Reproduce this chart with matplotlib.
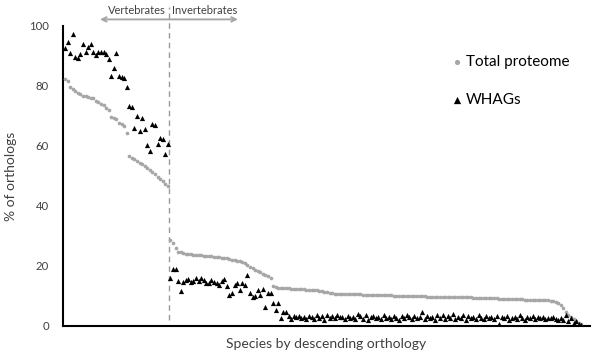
import matplotlib
matplotlib.use("Agg")
import matplotlib.pyplot as plt
import numpy as np

plt.rcParams['font.family'] = ['Lato', 'DejaVu Sans']

# ---- data ----
total_vertebrates = [82.2, 81.8, 79.6, 79.0, 78.2, 77.6, 77.2, 76.8, 76.5, 76.3,
                     76.1, 75.9, 74.9, 74.5, 74.0, 73.6, 72.8, 72.0, 69.8, 69.4,
                     68.9, 67.8, 67.3, 66.8, 64.2, 56.5, 56.0, 55.5, 55.0, 54.4,
                     53.9, 53.2, 52.6, 51.9, 51.2, 50.5, 49.8, 49.0, 48.3, 47.2,
                     46.5]
whags_vertebrates = [92.6, 94.6, 90.9, 97.3, 89.6, 89.2, 90.7, 94.1, 91.3, 93.0,
                     94.0, 91.3, 90.3, 91.4, 91.3, 91.2, 90.8, 88.9, 83.4, 85.9,
                     91.1, 83.4, 83.1, 82.5, 79.8, 73.3, 72.9, 66.1, 70.1, 65.0,
                     69.4, 65.6, 60.2, 58.4, 67.3, 67.1, 60.6, 62.8, 62.4, 57.3,
                     60.7]

total_invertebrates = [
    28.7, 27.6, 25.9, 24.8, 24.5, 24.3, 24.1, 24.0, 23.9, 23.8,
    23.7, 23.6, 23.5, 23.4, 23.4, 23.3, 23.2, 23.1, 23.0, 22.9,
    22.8, 22.6, 22.5, 22.3, 22.1, 22.0, 21.8, 21.5, 21.2, 20.9,
    20.3, 19.6, 19.2, 18.7, 18.4, 17.9, 17.4, 17.0, 16.6, 16.0,
    13.3, 13.0, 12.8, 12.6, 12.6, 12.5, 12.5, 12.4, 12.4, 12.3,
    12.3, 12.2, 12.2, 12.1, 12.1, 12.0, 12.0, 11.9, 11.8, 11.6,
    11.4, 11.2, 11.0, 10.9, 10.8, 10.7, 10.7, 10.7, 10.6, 10.6,
    10.6, 10.5, 10.5, 10.5, 10.5, 10.4, 10.4, 10.4, 10.4, 10.3,
    10.3, 10.3, 10.3, 10.2, 10.2, 10.2, 10.2, 10.1, 10.1, 10.1,
    10.1, 10.0, 10.0, 10.0, 10.0, 10.0, 9.9, 9.9, 9.9, 9.9,
    9.8, 9.8, 9.8, 9.8, 9.7, 9.7, 9.7, 9.7, 9.6, 9.6,
    9.6, 9.6, 9.6, 9.5, 9.5, 9.5, 9.5, 9.5, 9.4, 9.4,
    9.4, 9.4, 9.3, 9.3, 9.3, 9.2, 9.2, 9.2, 9.1, 9.1,
    9.1, 9.0, 9.0, 9.0, 8.9, 8.9, 8.9, 8.9, 8.8, 8.8,
    8.8, 8.8, 8.7, 8.7, 8.7, 8.6, 8.6, 8.5, 8.4, 8.2,
    8.0, 7.5, 7.0, 6.0, 4.8, 3.8, 2.9, 2.2, 1.5, 1.0, 0.5]
whags_invertebrates = [
    15.9, 18.9, 18.9, 15.1, 11.8, 14.8, 15.3, 15.6, 14.8, 15.1,
    15.9, 15.1, 15.9, 15.3, 14.2, 14.2, 15.3, 14.8, 14.2, 13.7,
    15.1, 15.6, 13.4, 10.3, 10.9, 13.7, 14.2, 12.0, 14.2, 13.7,
    17.0, 11.1, 9.8, 9.9, 12.0, 10.3, 12.2, 6.4, 11.1, 10.9,
    7.5, 5.3, 7.5, 2.6, 4.8, 4.8, 3.3, 2.2, 3.3, 2.9,
    3.3, 2.6, 3.1, 2.2, 3.3, 3.0, 2.4, 3.6, 2.7, 3.2,
    2.1, 3.5, 2.8, 3.3, 2.5, 3.8, 2.9, 3.1, 2.3, 3.4,
    2.6, 3.0, 2.2, 4.1, 3.2, 2.4, 3.5, 2.0, 2.9, 3.3,
    2.5, 3.0, 2.2, 3.6, 2.7, 3.1, 2.4, 3.4, 2.8, 2.1,
    3.2, 2.6, 3.7, 2.9, 2.3, 3.3, 2.5, 3.0, 4.6, 2.2,
    3.4, 2.7, 3.1, 2.0, 3.5, 2.6, 3.8, 2.4, 3.2, 2.8,
    3.9, 2.3, 3.0, 2.5, 3.6, 2.1, 3.3, 2.7, 3.1, 2.4,
    3.5, 2.8, 2.2, 3.4, 2.6, 3.0, 2.3, 3.2, 0.8, 2.9,
    2.5, 3.3, 2.1, 2.8, 3.1, 2.4, 3.5, 2.6, 2.0, 3.0,
    2.7, 3.2, 2.3, 2.9, 2.5, 3.1, 2.2, 2.8, 2.6, 3.0,
    2.4, 2.1, 2.7, 2.0, 3.6, 1.5, 2.6, 1.0, 1.6, 0.6, 0.3]

series_labels = ["Total proteome", "WHAGs"]
group_labels = ["Vertebrates", "Invertebrates"]
y_ticks = [0, 20, 40, 60, 80, 100]
x_label = "Species by descending orthology"
y_label = "% of orthologs"

total = total_vertebrates + total_invertebrates
whags = whags_vertebrates + whags_invertebrates
n_vert = len(total_vertebrates)
species = np.arange(len(total))

GRAY = "#A6A6A6"
TEXT = "#404040"

fig = plt.figure(figsize=(6.0, 3.64), dpi=100)
ax = fig.add_axes([0.105, 0.1044, 0.878, 0.8242])

h_total = ax.scatter(species, total, s=7, marker='o', color=GRAY,
                     linewidths=0, label=series_labels[0], zorder=3)
h_whags = ax.scatter(species, whags, s=14, marker='^', color='black',
                     linewidths=0, label=series_labels[1], zorder=4)

ax.set_xlim(-0.8, len(total) + 2.3)
ax.set_ylim(0, 100)
ax.set_yticks(y_ticks)
ax.set_xticks([])
ax.tick_params(axis='y', length=0, pad=10, labelsize=8.2, labelcolor=TEXT)

for side in ("top", "right"):
    ax.spines[side].set_visible(False)
for side in ("left", "bottom"):
    ax.spines[side].set_linewidth(1.5)
    ax.spines[side].set_color("black")

ax.set_xlabel(x_label, fontsize=10, color=TEXT, labelpad=9)
ax.set_ylabel(y_label, fontsize=10, color=TEXT, labelpad=9)

# divider between vertebrates and invertebrates
split = n_vert - 0.5
ax.vlines(split, 2, 106.3, colors="#9A9A9A", linestyles=(0, (4, 3)),
          linewidth=1.0, clip_on=False, zorder=2)
ax.annotate("", xy=(13.6, 102.2), xytext=(67.3, 102.2),
            arrowprops=dict(arrowstyle="<->", color=GRAY, lw=1.4,
                            mutation_scale=8, shrinkA=0, shrinkB=0),
            annotation_clip=False)
ax.text(split - 1.2, 105.1, group_labels[0], ha='right', va='center',
        fontsize=8, color=TEXT)
ax.text(split + 1.2, 105.1, group_labels[1], ha='left', va='center',
        fontsize=8, color=TEXT)

ax.legend(handles=[h_total, h_whags], loc='upper left',
          bbox_to_anchor=(0.738, 0.866), bbox_transform=fig.transFigure,
          frameon=False, fontsize=11, labelspacing=1.6,
          handletextpad=0.1, handlelength=1.0, markerscale=1.4,
          labelcolor="black", borderaxespad=0)

fig.savefig("out.png", dpi=100)
